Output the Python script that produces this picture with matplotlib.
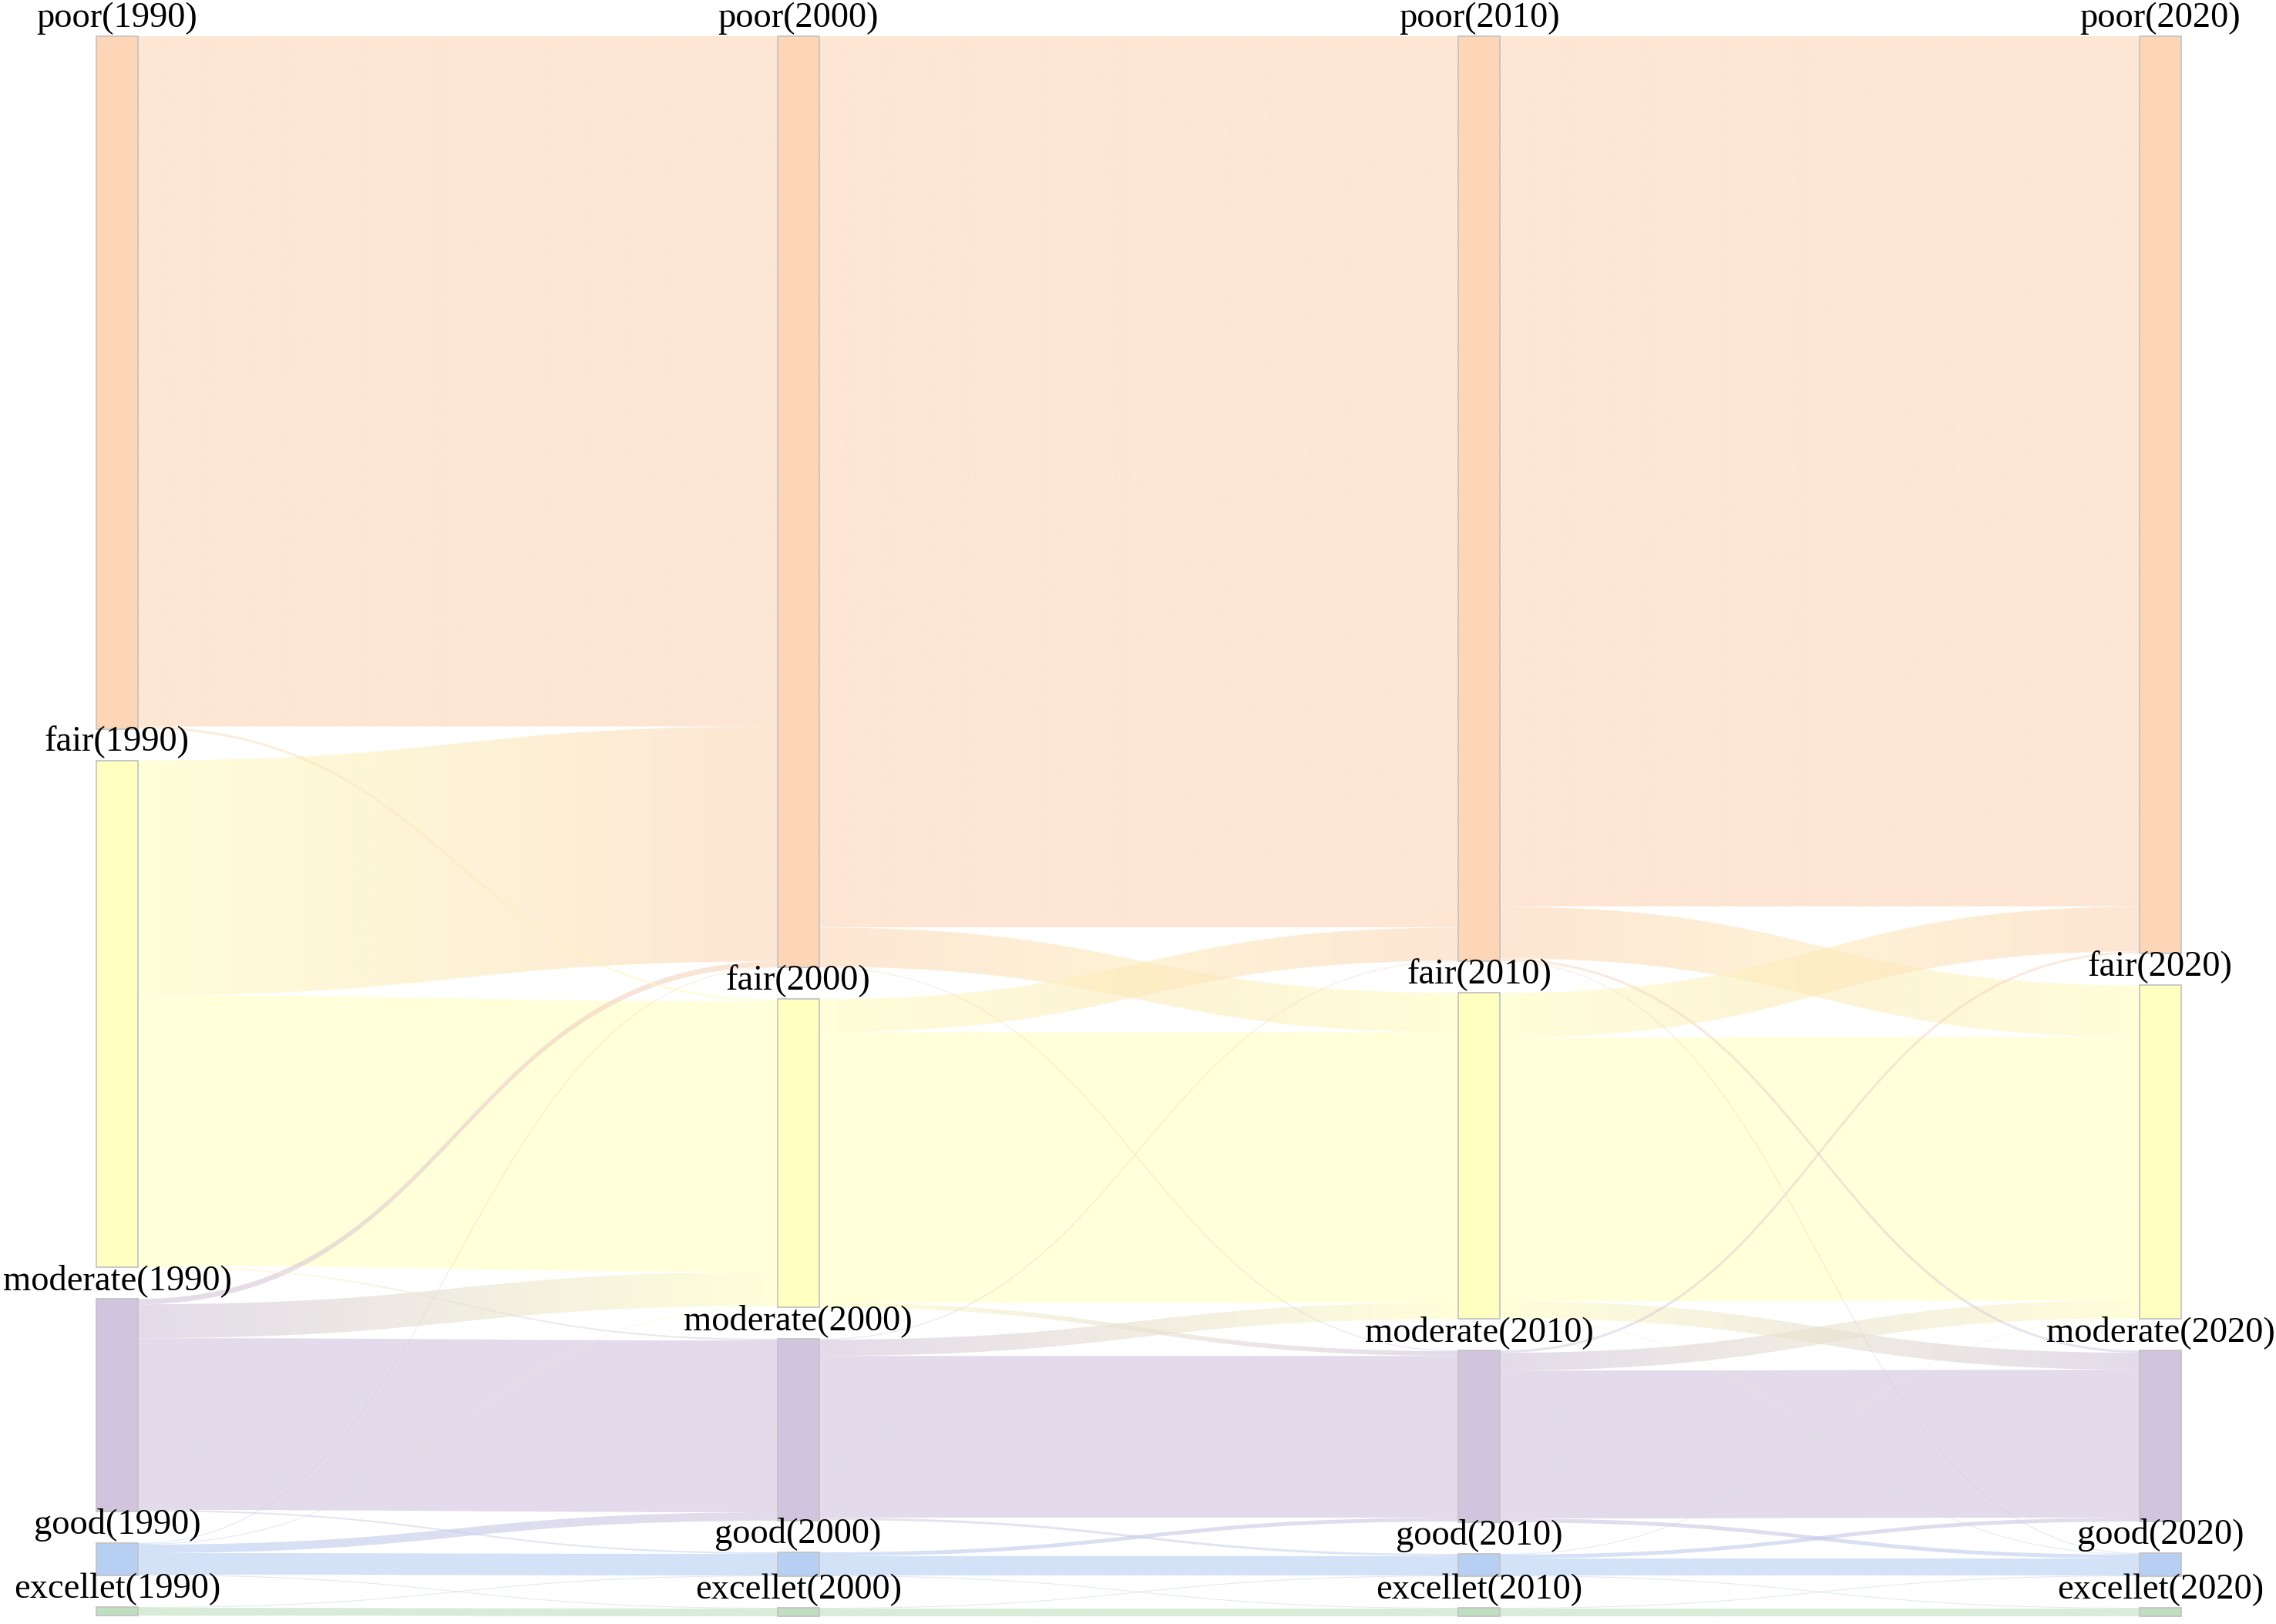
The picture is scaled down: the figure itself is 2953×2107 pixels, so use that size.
import numpy as np
import matplotlib
matplotlib.use("Agg")
import matplotlib.pyplot as plt
from matplotlib.path import Path
from matplotlib.patches import PathPatch, Rectangle
from matplotlib.collections import LineCollection
from matplotlib.colors import to_rgb

# ---------------- data ----------------
years = ["1990", "2000", "2010", "2020"]
classes = ["poor", "fair", "moderate", "good", "excellet"]
node_colors = ["#FCD6B7", "#FFFFC0", "#D1C4DE", "#B7CFF3", "#BEE0BE"]

# transition matrices: rows = class in earlier year, cols = class in later year
flows_1990_2000 = [
    [896,   3,   0,  0,  0],
    [305, 351,   2,  0,  0],
    [  7,  44, 223,  2,  0],
    [  1,   1,  11, 28,  1],
    [  0,   0,   0,  1, 10],
]
flows_2000_2010 = [
    [1157,  51,   1,  0,  0],
    [  43, 351,   6,  0,  0],
    [   1,  21, 210,  3,  0],
    [   0,   0,   5, 25,  1],
    [   0,   0,   0,  1, 10],
]
flows_2010_2020 = [
    [1130,  67,   3,  1,  0],
    [  58, 342,  22,  1,  0],
    [   3,  23, 192,  5,  0],
    [   0,   1,   5, 22,  1],
    [   0,   0,   0,  1, 10],
]
all_flows = [flows_1990_2000, flows_2000_2010, flows_2010_2020]

# ---------------- layout ----------------
W, H = 2953, 2107
fig = plt.figure(figsize=(W / 100, H / 100), dpi=100)
ax = fig.add_axes([0, 0, 1, 1])
ax.set_xlim(0, W)
ax.set_ylim(H, 0)
ax.axis("off")
ax.set_autoscale_on(False)

ncol, ncls = len(years), len(classes)
node_val = np.zeros((ncol, ncls))
for c in range(ncol):
    inn = np.array(all_flows[c - 1], float).sum(axis=0) if c > 0 else np.zeros(ncls)
    out = np.array(all_flows[c], float).sum(axis=1) if c < ncol - 1 else np.zeros(ncls)
    node_val[c] = np.maximum(inn, out)

TOP, BOTTOM, GAP = 47, 2097, 41
LEFT, RIGHT, NODE_W = 125, 2830, 54
ky = min((BOTTOM - TOP - GAP * (ncls - 1)) / node_val[c].sum() for c in range(ncol))
node_x = np.linspace(LEFT, RIGHT - NODE_W, ncol)
node_y = np.zeros((ncol, ncls))
for c in range(ncol):
    y = TOP
    for k in range(ncls):
        node_y[c, k] = y
        y += node_val[c, k] * ky + GAP

ALPHA = 0.6


def bez(p0, p1, p2, p3, t):
    t = t[:, None]
    return ((1 - t) ** 3) * p0 + 3 * ((1 - t) ** 2) * t * p1 + 3 * (1 - t) * t ** 2 * p2 + t ** 3 * p3


def draw_link(x0, x1, ys, yt, h, c0, c1):
    xm = (x0 + x1) / 2
    c0 = np.array(to_rgb(c0)); c1 = np.array(to_rgb(c1))
    if h < 4:
        t = np.linspace(0, 1, 160)
        pts = bez(np.array([x0, ys + h / 2]), np.array([xm, ys + h / 2]),
                  np.array([xm, yt + h / 2]), np.array([x1, yt + h / 2]), t)
        segs = np.stack([pts[:-1], pts[1:]], axis=1)
        tt = (t[:-1] + t[1:]) / 2
        cols = np.zeros((len(tt), 4))
        cols[:, :3] = (1 - tt)[:, None] * c0 + tt[:, None] * c1
        cols[:, 3] = 0.5
        lc = LineCollection(segs, colors=cols, linewidths=max(h, 1.0) * 0.72,
                            capstyle="butt", zorder=2)
        ax.add_collection(lc)
        return
    verts = [(x0, ys), (xm, ys), (xm, yt), (x1, yt),
             (x1, yt + h), (xm, yt + h), (xm, ys + h), (x0, ys + h), (x0, ys)]
    codes = [Path.MOVETO, Path.CURVE4, Path.CURVE4, Path.CURVE4,
             Path.LINETO, Path.CURVE4, Path.CURVE4, Path.CURVE4, Path.CLOSEPOLY]
    patch = PathPatch(Path(verts, codes), facecolor="none", edgecolor="none")
    ax.add_patch(patch)
    n = 128
    tt = np.linspace(0, 1, n)
    img = np.zeros((1, n, 4))
    img[0, :, :3] = (1 - tt)[:, None] * c0 + tt[:, None] * c1
    img[0, :, 3] = ALPHA
    ymin, ymax = min(ys, yt), max(ys, yt) + h
    im = ax.imshow(img, extent=(x0, x1, ymax, ymin), aspect="auto",
                   interpolation="bilinear", zorder=1)
    im.set_clip_path(patch)


for c in range(ncol - 1):
    F = np.array(all_flows[c], float)
    s_off = node_y[c].copy()
    t_off = node_y[c + 1].copy()
    sy = np.zeros_like(F)
    ty = np.zeros_like(F)
    for k in range(ncls):
        for j in range(ncls):
            sy[k, j] = s_off[k]
            s_off[k] += F[k, j] * ky
    for j in range(ncls):
        for k in range(ncls):
            ty[k, j] = t_off[j]
            t_off[j] += F[k, j] * ky
    x0 = node_x[c] + NODE_W
    x1 = node_x[c + 1]
    order = sorted([(F[k, j], k, j) for k in range(ncls) for j in range(ncls) if F[k, j] > 0],
                   reverse=True)
    for v, k, j in order:
        draw_link(x0, x1, sy[k, j], ty[k, j], v * ky, node_colors[k], node_colors[j])

# nodes and labels
for c in range(ncol):
    for k in range(ncls):
        h = node_val[c, k] * ky
        ax.add_patch(Rectangle((node_x[c], node_y[c, k]), NODE_W, h,
                               facecolor=node_colors[k], edgecolor="#C4C4C4",
                               linewidth=1.3, zorder=3))
        ax.text(node_x[c] + NODE_W / 2, node_y[c, k] - 12,
                f"{classes[k]}({years[c]})", ha="center", va="baseline",
                fontsize=33.5, family=["Liberation Serif", "DejaVu Serif"],
                color="black", zorder=4)

fig.savefig("out.png", dpi=100, facecolor="white")
